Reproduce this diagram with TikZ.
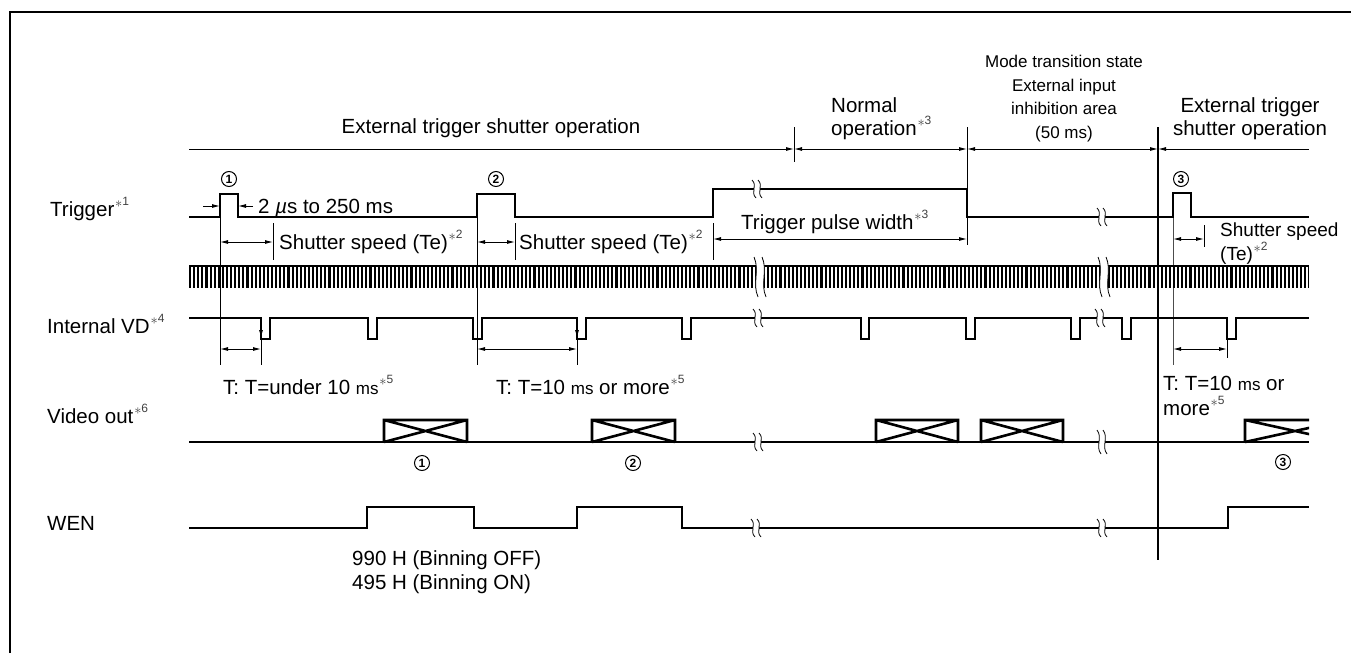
\documentclass[tikz,border=0pt]{standalone}
\usepackage{fontspec}
\setmainfont{Liberation Sans}
\usetikzlibrary{arrows.meta}
\newcommand{\fnm}[1]{{\color{black!75}\kern0.04em\raisebox{0.42em}{\fontsize{15}{15}\selectfont$\ast$}\raisebox{0.5em}{\fontsize{12}{12}\selectfont #1}}}
\newcommand{\brkmark}[4]{% x y halfheight offset
  \begin{scope}[shift={(#1,#2)}]
    \fill[white] ({-#4-2},{-#3}) .. controls ({-#4+4},{-#3/3}) and ({-#4-4},{#3/3}) .. ({-#4+2},{#3})
      -- ({#4+2},{#3}) .. controls ({#4-4},{#3/3}) and ({#4+4},{-#3/3}) .. ({#4-2},{-#3}) -- cycle;
    \draw[line width=0.8pt] ({-#4-2},{-#3}) .. controls ({-#4+4},{-#3/3}) and ({-#4-4},{#3/3}) .. ({-#4+2},{#3});
    \draw[line width=0.8pt] ({#4-2},{-#3}) .. controls ({#4+4},{-#3/3}) and ({#4-4},{#3/3}) .. ({#4+2},{#3});
  \end{scope}}
\tikzset{
  sig/.style={line width=1.8pt},
  thinln/.style={line width=0.9pt},
  dimln/.style={line width=0.9pt,{Latex[length=8pt,width=4pt]}-{Latex[length=8pt,width=4pt]}},
  tip/.style={line width=0.9pt,-{Latex[length=8pt,width=4pt]}},
  txt/.style={inner sep=0pt,anchor=base west,font=\fontsize{20.5}{24}\selectfont},
  ctxt/.style={inner sep=0pt,anchor=base,font=\fontsize{20.5}{24}\selectfont},
  mtxt/.style={inner sep=0pt,anchor=base,font=\fontsize{17}{20}\selectfont},
  stxt/.style={inner sep=0pt,anchor=base west,font=\fontsize{19}{22}\selectfont},
  cnum/.style={circle,draw,line width=1pt,minimum size=15pt,inner sep=0pt,font=\fontsize{12}{12}\selectfont\bfseries},
  vbox/.style={line width=2.6pt}
}
\begin{document}
\begin{tikzpicture}[x=1pt,y=-1pt]
\useasboundingbox (0,0) rectangle (1351,653);
% frame
\draw[line width=1.2pt] (10,653) -- (10,12) -- (1351,12);

% row labels
\node[txt] (lTrig) at (50,216) {Trigger\fnm{1}};
\node[txt] (lVD) at (47,333) {Internal VD\fnm{4}};
\node[txt] (lVid) at (47,423) {Video out\fnm{6}};
\node[txt] (lWEN) at (47,530) {WEN};

% top operation labels
\node[ctxt] (op1) at (491,133) {External trigger shutter operation};
\node[txt] (op2a) at (831,112) {Normal};
\node[txt] (op2b) at (831,135) {operation\fnm{3}};
\node[mtxt] (op3a) at (1064,67) {Mode transition state};
\node[mtxt] (op3b) at (1064,91) {External input};
\node[mtxt] (op3c) at (1064,114) {inhibition area};
\node[mtxt] (op3d) at (1064,138) {(50 ms)};
\node[ctxt] (op4a) at (1250,112) {External trigger};
\node[ctxt] (op4b) at (1250,135) {shutter operation};

% timeline
\coordinate (tl0) at (189,149);
\coordinate (tl1) at (794,149);
\coordinate (tl2) at (967,149);
\coordinate (tl3) at (1158,149);
\coordinate (tl4) at (1309,149);
\draw[thinln,-{Latex[length=8pt,width=4pt]}] (tl0) -- (tl1);
\draw[dimln] (tl1) -- (tl2);
\draw[dimln] (tl2) -- (tl3);
\draw[thinln,{Latex[length=8pt,width=4pt]}-] (tl3) -- (tl4);
\draw[thinln] (794,127) -- (794,162);
\draw[thinln] (967,127) -- (967,245);
\draw[line width=1.1pt] (1158,127) -- (1158,560);

% extension lines
\draw[line width=0.8pt] (220,194) -- (220,365);
\draw[line width=0.8pt] (477,194) -- (477,365);
\draw[line width=0.8pt,black!70] (1173,193) -- (1173,365);
\draw[line width=0.8pt] (273,223) -- (273,260);
\draw[line width=0.8pt] (515,223) -- (515,260);
\draw[line width=0.8pt] (713,223) -- (713,260);
\draw[line width=0.8pt] (1204,225) -- (1204,247);
\draw[line width=0.8pt] (261,339) -- (261,365);
\draw[line width=0.8pt] (577,339) -- (577,365);
\draw[line width=0.8pt] (1227,339) -- (1227,358);

% trigger
\draw[sig] (189,217) -| (220,194) -| (238,217) -| (477,194) -| (515,217) -| (713,189) -| (967,217) -| (1173,193) -| (1191,217) -- (1309,217);
\brkmark{757}{189}{9}{3}
\brkmark{1102}{217}{9}{3}
\node[cnum] (c1) at (229,179) {1};
\node[cnum] (c2) at (496,179) {2};
\node[cnum] (c3) at (1181,179) {3};
\draw[tip] (203,206) -- (220,206);
\draw[tip] (253,206) -- (238,206);
\node[txt] (pw) at (258,213) {2 {\itshape µ}s to 250 ms};

% shutter speed dims
\draw[dimln] (220,242) -- (273,242);
\node[txt] (ss1) at (279,249) {Shutter speed (Te)\fnm{2}};
\draw[dimln] (477,242) -- (515,242);
\node[txt] (ss2) at (519,249) {Shutter speed (Te)\fnm{2}};
\draw[dimln] (713,239) -- (967,239);
\node[txt] (tpw) at (741,229) {Trigger pulse width\fnm{3}};
\draw[dimln] (1173,239) -- (1204,239);
\node[stxt] (ss3a) at (1220,236) {Shutter speed};
\node[stxt] (ss3b) at (1220,260) {(Te)\fnm{2}};

% clock track
\draw[line width=2pt] (189,266) -- (1309,266);
\draw[line width=22pt,dash pattern=on 2.1pt off 2pt] (189,277) -- (1309,277);
\brkmark{760}{277}{20}{4}
\brkmark{1104}{277}{20}{4}

% internal VD
\draw[sig] (189,318) -| (261,339) -| (270,318) -| (368,339) -| (377,318) -| (473,339) -| (482,318) -| (577,339) -| (586,318) -| (682,339) -| (691,318) -| (861,339) -| (869,318) -| (966,339) -| (975,318) -| (1071,339) -| (1080,318) -| (1122,339) -| (1131,318) -| (1227,339) -| (1236,318) -- (1309,318);
\draw[tip] (261,320) -- (261,338);
\draw[tip] (577,320) -- (577,338);
\brkmark{758}{318}{9}{3}
\brkmark{1100}{318}{9}{3}
\draw[dimln] (220,349) -- (261,349);
\draw[dimln] (477,349) -- (577,349);
\draw[dimln] (1173,349) -- (1227,349);
\node[txt] (T1) at (223,394) {T: T=under 10 {\fontsize{17}{20}\selectfont ms}\fnm{5}};
\node[txt] (T2) at (496,394) {T: T=10 {\fontsize{17}{20}\selectfont ms} or more\fnm{5}};
\node[txt] (T3a) at (1163,390) {T: T=10 {\fontsize{17}{20}\selectfont ms} or};
\node[txt] (T3b) at (1163,415) {more\fnm{5}};

% video out
\draw[sig] (189,442) -- (1309,442);
\foreach \a/\b in {384/467,592/675,876/958,981/1063}{
  \draw[vbox] (\a,442) -- (\a,420) -- (\b,420) -- (\b,442) (\a,420) -- (\b,442) (\a,442) -- (\b,420);
}
\begin{scope}
  \clip (1240,410) rectangle (1309,450);
  \draw[vbox] (1245,442) -- (1245,420) -- (1345,420) (1245,420) -- (1345,442) (1245,442) -- (1345,420);
\end{scope}
\brkmark{758}{442}{9}{3}
\brkmark{1102}{442}{12}{3}
\node[cnum] (v1) at (422,463) {1};
\node[cnum] (v2) at (633,463) {2};
\node[cnum] (v3) at (1283,462) {3};

% WEN
\draw[sig] (189,528) -| (367,507) -| (474,528) -| (577,507) -| (682,528) -| (1228,507) -- (1309,507);
\brkmark{756}{528}{9}{3}
\brkmark{1102}{528}{9}{3}
\node[txt] (b1) at (352,565) {990 H (Binning OFF)};
\node[txt] (b2) at (352,589) {495 H (Binning ON)};
\end{tikzpicture}
\end{document}
